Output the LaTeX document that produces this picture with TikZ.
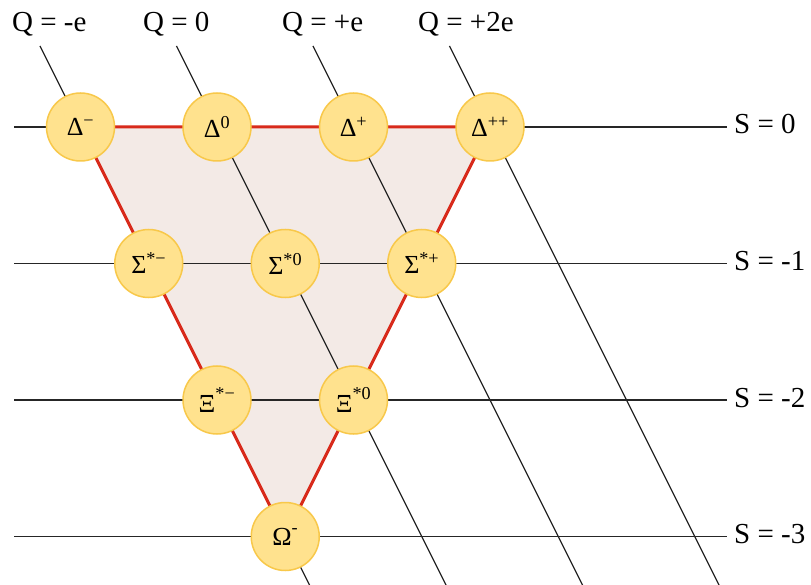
\documentclass[tikz,border=0pt]{standalone}
\usepackage{fontspec}
\setmainfont{Liberation Serif}
\definecolor{nodefill}{HTML}{FFE28E}
\definecolor{nodeborder}{HTML}{F8C84A}
\definecolor{trifill}{HTML}{F3EAE6}
\definecolor{trired}{HTML}{D82A1B}
\newcommand{\psup}[1]{\textsuperscript{#1}}
\begin{document}
\begin{tikzpicture}[x=1pt,y=-1pt,
  particle/.style={circle, minimum size=68pt, inner sep=0pt, fill=nodefill,
    draw=nodeborder, line width=1.5pt, font=\fontsize{26}{28}\selectfont},
  gridline/.style={line width=1.3pt, black!85},
  triedge/.style={line width=3pt, trired},
  lab/.style={font=\fontsize{29}{32}\selectfont, inner sep=0pt, anchor=base west}]
\useasboundingbox (0,0) rectangle (811,585);
% node centres
\coordinate (pDm)  at (80.5,127);
\coordinate (pD0)  at (217,127);
\coordinate (pDp)  at (353.5,127);
\coordinate (pDpp) at (490,127);
\coordinate (pSm)  at (148.75,263.5);
\coordinate (pS0)  at (285.25,263.5);
\coordinate (pSp)  at (421.75,263.5);
\coordinate (pXm)  at (217,400);
\coordinate (pX0)  at (353.5,400);
\coordinate (pOm)  at (285.25,536.5);
% grid line ends
\coordinate (qt1) at (40,46);    \coordinate (qb1) at (309.5,585);
\coordinate (qt2) at (176.5,46); \coordinate (qb2) at (446,585);
\coordinate (qt3) at (313,46);   \coordinate (qb3) at (582.5,585);
\coordinate (qt4) at (449.5,46); \coordinate (qb4) at (719,585);
\coordinate (sl0) at (14,127);   \coordinate (sr0) at (727,127);
\coordinate (sl1) at (14,263.5); \coordinate (sr1) at (727,263.5);
\coordinate (sl2) at (14,400);   \coordinate (sr2) at (727,400);
\coordinate (sl3) at (14,536.5); \coordinate (sr3) at (727,536.5);
% triangle
\fill[trifill] (pDm) -- (pDpp) -- (pOm) -- cycle;
% grid lines
\draw[gridline] (qt1) -- (qb1);
\draw[gridline] (qt2) -- (qb2);
\draw[gridline] (qt3) -- (qb3);
\draw[gridline] (qt4) -- (qb4);
\draw[gridline] (sl0) -- (sr0);
\draw[gridline] (sl1) -- (sr1);
\draw[gridline] (sl2) -- (sr2);
\draw[gridline] (sl3) -- (sr3);
% triangle edges
\draw[triedge] (pDm) -- (pDpp) -- (pOm) -- cycle;
% particles
\node[particle] (Dm)  at (pDm)  {Δ\psup{−}};
\node[particle] (D0)  at (pD0)  {Δ\psup{0}};
\node[particle] (Dp)  at (pDp)  {Δ\psup{+}};
\node[particle] (Dpp) at (pDpp) {Δ\psup{++}};
\node[particle] (Sm)  at (pSm)  {Σ\psup{*−}};
\node[particle] (S0)  at (pS0)  {Σ\psup{*0}};
\node[particle] (Sp)  at (pSp)  {Σ\psup{*+}};
\node[particle] (Xm)  at (pXm)  {Ξ\raisebox{4pt}{\psup{*−}}};
\node[particle] (X0)  at (pX0)  {Ξ\raisebox{4pt}{\psup{*0}}};
\node[particle] (Om)  at (pOm)  {Ω\raisebox{3pt}{\psup{-}}};
% labels
\node[lab] (q1) at (12,32)  {Q = -e};
\node[lab] (q2) at (143,32) {Q = 0};
\node[lab] (q3) at (282,32) {Q = +e};
\node[lab] (q4) at (418,32) {Q = +2e};
\node[lab] (s0) at (734,134)   {S = 0};
\node[lab] (s1) at (734,270.5) {S = -1};
\node[lab] (s2) at (734,407)   {S = -2};
\node[lab] (s3) at (734,543.5) {S = -3};
\end{tikzpicture}
\end{document}
